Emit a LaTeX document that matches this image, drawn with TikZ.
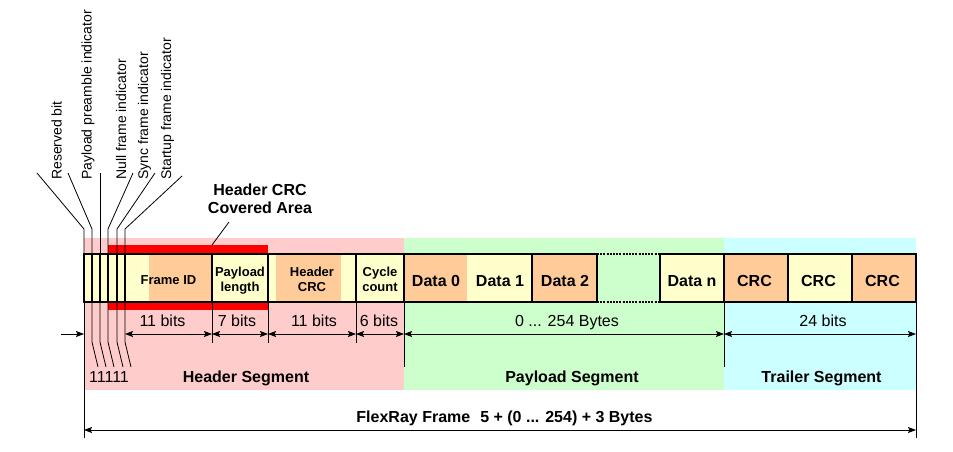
\documentclass[tikz,border=0pt]{standalone}
\usepackage{fontspec}
\setmainfont{Liberation Sans}
\usetikzlibrary{arrows.meta}
\definecolor{bgpink}{RGB}{255,204,204}
\definecolor{bggreen}{RGB}{204,255,204}
\definecolor{bgcyan}{RGB}{204,255,255}
\definecolor{cellyel}{RGB}{255,255,204}
\definecolor{cellorg}{RGB}{255,204,153}
\definecolor{crcred}{RGB}{255,0,0}
\begin{document}
\begin{tikzpicture}[x=1pt,y=-1pt,
  frameline/.style={line width=2.6pt},
  tickline/.style={line width=0.8pt},
  dimarrow/.style={line width=0.8pt,{Stealth[length=8pt,width=6pt,inset=1.5pt]}-{Stealth[length=8pt,width=6pt,inset=1.5pt]}},
  inarrow/.style={line width=0.8pt,-{Stealth[length=8pt,width=6pt,inset=1.5pt]}},
  cellbig/.style={font=\fontsize{16}{18}\selectfont\bfseries,inner sep=0pt,anchor=base},
  cellsmall/.style={font=\fontsize{13}{15}\selectfont\bfseries,align=center,inner sep=0pt,anchor=north},
  dimlabel/.style={font=\fontsize{16}{18}\selectfont,inner sep=0pt,anchor=base},
  seglabel/.style={font=\fontsize{16}{18}\selectfont\bfseries,inner sep=0pt,anchor=base},
  vlabel/.style={font=\fontsize{14}{16}\selectfont,rotate=90,anchor=base west,inner sep=0pt},
]
\useasboundingbox (0,0) rectangle (953,452);

% segment backgrounds
\fill[bgpink] (84,238) rectangle (404,390);
\fill[bggreen] (404,238) rectangle (724,390);
\fill[bgcyan] (724,238) rectangle (916,390);

% header CRC covered area bars
\fill[crcred] (108,245) rectangle (268,254);
\fill[crcred] (108,301) rectangle (268,310);

% cell fills
\fill[cellyel] (84,254) rectangle (404,302);
\fill[cellorg] (149,254) rectangle (212,302);
\fill[cellorg] (276,254) rectangle (341,302);
\fill[cellorg] (404,254) rectangle (467,302);
\fill[cellyel] (467,254) rectangle (532,302);
\fill[cellorg] (532,254) rectangle (597,302);
\fill[cellyel] (660,254) rectangle (724,302);
\fill[cellorg] (724,254) rectangle (788,302);
\fill[cellyel] (788,254) rectangle (852,302);
\fill[cellorg] (852,254) rectangle (916,302);

% frame outline
\draw[frameline,line join=miter] (597,254) -- (84,254) -- (84,302) -- (597,302);
\draw[frameline,line join=miter] (660,254) -- (916,254) -- (916,302) -- (660,302);
\draw[frameline,dash pattern=on 2pt off 1.2pt] (597,254) -- (660,254) (597,302) -- (660,302);
\foreach \x in {92,100,108,117,125,212,268,356,404,532,597,660,724,788,852}
  \draw[frameline] (\x,254) -- (\x,302);

% cell labels
\node[cellsmall,anchor=base] (fid) at (168.5,284.5) {Frame ID};
\node[cellsmall] (plen) at (240,266.5) {Payload\\length};
\node[cellsmall] (hcrccell) at (312,266.5) {Header\\CRC};
\node[cellsmall] (ccount) at (380,266.5) {Cycle\\count};
\node[cellbig] (d0) at (436,286) {Data 0};
\node[cellbig] (d1) at (500,286) {Data 1};
\node[cellbig] (d2) at (565,286) {Data 2};
\node[cellbig] (dn) at (692,286) {Data n};
\node[cellbig] (crc1) at (754.5,286) {CRC};
\node[cellbig] (crc2) at (818.5,286) {CRC};
\node[cellbig] (crc3) at (882.5,286) {CRC};

% indicator labels
\node[vlabel] (rb) at (61.5,180) {Reserved bit};
\node[vlabel] (ppi) at (91.5,180) {Payload preamble indicator};
\node[vlabel] (nfi) at (126,180) {Null frame indicator};
\node[vlabel] (sfi) at (148,180) {Sync frame indicator};
\node[vlabel] (sti) at (171,180) {Startup frame indicator};

% leader lines above the frame
\draw[tickline] (37,173) -- (84,229) -- (84,254);
\draw[tickline] (68,173) -- (92,229) -- (92,254);
\draw[tickline] (100,173) -- (100,254);
\draw[tickline] (133,173) -- (108,229) -- (108,254);
\draw[tickline] (155,173) -- (117,229) -- (117,254);
\draw[tickline] (182,176) -- (125,229) -- (125,254);

% header CRC covered area label
\node[font=\fontsize{16}{18}\selectfont\bfseries,align=center,inner sep=0pt] (hcrc) at (260,198.5) {Header CRC\\Covered Area};
\coordinate (hcrcfoot) at (229,222);
\coordinate (hcrcbar) at (212,245);
\draw[tickline] (hcrcbar) -- (hcrcfoot);

% tick lines below the frame
\draw[tickline] (84,302) -- (84,438);
\foreach \x in {92,100,108,117,125}
  \draw[tickline] (\x,302) -- (\x,342) -- (\x+6,367);
\foreach \x in {212,268,356}
  \draw[tickline] (\x,302) -- (\x,343);
\draw[tickline] (404,302) -- (404,367);
\draw[tickline] (724,302) -- (724,367);
\draw[tickline] (916,302) -- (916,438);

% dimension arrows
\coordinate (in0) at (61,334);
\coordinate (a0) at (84,334);
\coordinate (a1) at (125,334);
\coordinate (a2) at (212,334);
\coordinate (a3) at (268,334);
\coordinate (a4) at (356,334);
\coordinate (a5) at (404,334);
\coordinate (a6) at (724,334);
\coordinate (a7) at (916,334);
\draw[inarrow] (in0) -- (a0);
\draw[dimarrow] (a1) -- (a2);
\draw[dimarrow] (a2) -- (a3);
\draw[dimarrow] (a3) -- (a4);
\draw[dimarrow] (a4) -- (a5);
\draw[dimarrow] (a5) -- (a6);
\draw[dimarrow] (a6) -- (a7);

\node[dimlabel] (l1) at (162.5,326) {11 bits};
\node[dimlabel] (l2) at (237,326) {7 bits};
\node[dimlabel] (l3) at (314,326) {11 bits};
\node[dimlabel] (l4) at (379,326) {6 bits};
\node[dimlabel] (l5) at (567,326) {0 ... 254 Bytes};
\node[dimlabel] (l6) at (823,326) {24 bits};

% segment labels
\node[dimlabel] (ones) at (109,382) {11111};
\node[seglabel] (hseg) at (246,382) {Header Segment};
\node[seglabel] (pseg) at (572,382) {Payload Segment};
\node[seglabel] (tseg) at (821.5,382) {Trailer Segment};

% whole frame
\coordinate (f0) at (84,430);
\coordinate (f1) at (916,430);
\draw[dimarrow] (f0) -- (f1);
\node[seglabel] (frm) at (504.5,422.5) {FlexRay Frame\hspace{10pt}5 + (0 ... 254) + 3 Bytes};
\end{tikzpicture}
\end{document}
